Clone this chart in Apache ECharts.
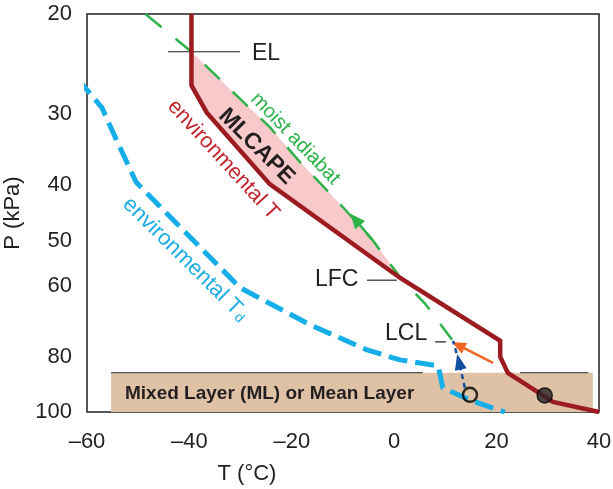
<!DOCTYPE html>
<html><head><meta charset="utf-8">
<script src="https://cdn.jsdelivr.net/npm/echarts@6/dist/echarts.min.js"></script>
<style>html,body{margin:0;padding:0;background:#fff}#c{width:613px;height:489px}</style>
</head><body><div id="c"></div>
<script>
// ---- data (T in °C, P in kPa) ----
const xTicks = [-60, -40, -20, 0, 20, 40];
const pTicks = [20, 30, 40, 50, 60, 80, 100];
const envT = [[-39.6,20],[-39.6,26.7],[-36.6,29.8],[-24.3,39.8],[1.1,58.1],[20.7,75.0],[20.7,80.0],[22.2,85.4],[29.5,94.1],[31.0,96.0],[40,100]];
const envTd = [[-61.8,26.0],[-57.1,29.2],[-54.9,32.3],[-50.4,39.5],[-30.1,60.5],[-16.4,70.3],[-5.3,77.8],[1.1,81.0],[8.6,83.0],[9.5,90.7],[14.8,95.3],[21.6,100]];
const moistAdiabat = [[-48.6,20],[-39.6,23.3],[-30.1,28.2],[-24.3,31.6],[-18.4,36.4],[-10,43.7],[-4.3,49.8],[1.1,57.9],[6.2,64.8],[11.3,74.7]];
const mlLayer = [[-55.3, 85.3, 38.8, 100]];
const mlTopBorders = [[[-55.3,85.3],[5.6,85.3]], [[24.6,85.3],[37.9,85.3]]];
const elLine = [[-44.2,23.3],[-30.1,23.3]];
const lfcLine = [[-5.3,58.7],[0.5,58.7]];
const lclLine = [[8.0,75.3],[10.1,75.3]];
const orangeArrow = [[19.3,82.0],[12.5,76.3]];
const liftArrow = [[13.8,90.7],[12.66,81.6]];
const liftToLCL = [[12.66,81.6],[11.5,75.0]];
const adiabatArrow = [[-4.3,49.8],[-7.6,45.9]];
const surfaceT = [[29.4,93.5]];
const surfaceTd = [[14.8,93.3]];

const FONT = '"Liberation Sans", Arial, Helvetica, sans-serif';
const DARK = '#231f20';
const lp = p => Math.log10(p);
const xy = arr => arr.map(d => [d[0], lp(d[1])]);
const capePoly = moistAdiabat.slice(1, 8).concat(envT.slice(1, 5).reverse());

const chart = echarts.init(document.getElementById('c'), null, {renderer: 'canvas'});
const RAD = Math.PI / 180;
function rotText(text, x, y, deg, color, size, weight, align) {
  return {type: 'text', x: x, y: y, rotation: -deg * RAD, silent: true, z: 100,
    style: {text: text, fill: color, fontSize: size, fontFamily: FONT,
      fontWeight: weight || 'normal', align: align || 'left', verticalAlign: 'middle'}};
}
function plainLine(data, color, width, extra) {
  return Object.assign({type: 'line', data: xy(data), symbol: 'none', silent: true,
    lineStyle: {color: color, width: width}, z: 6}, extra || {});
}
function arrowSeries(seg, color, width, dash, size, z) {
  const s = xy(seg);
  return {
    type: 'line', data: [], silent: true, z: z,
    markLine: {
      silent: true, symbol: ['none', 'triangle'], symbolSize: size, animation: false,
      label: {show: false}, lineStyle: {color: color, width: width, type: dash},
      emphasis: {disabled: true},
      data: [[{coord: s[0]}, {coord: s[1]}]]
    }
  };
}

const option = {
  animation: false,
  grid: {left: 87, right: 14, top: 14, bottom: 77, outerBoundsMode: 'none', containLabel: false,
    show: true, borderColor: DARK, borderWidth: 1.5, backgroundColor: 'transparent'},
  xAxis: {
    type: 'value', min: xTicks[0], max: xTicks[xTicks.length - 1], interval: 20,
    axisLine: {show: false}, axisTick: {show: false}, splitLine: {show: false},
    axisLabel: {fontSize: 22, color: DARK, fontFamily: FONT, margin: 19,
      formatter: v => v < 0 ? '\u2013' + (-v) : String(v)}
  },
  yAxis: {
    type: 'value', inverse: true, min: lp(pTicks[0]), max: lp(pTicks[pTicks.length - 1]),
    name: 'P (kPa)', nameLocation: 'middle', nameGap: 62, nameRotate: 90,
    nameTextStyle: {fontSize: 22, color: DARK, fontFamily: FONT},
    axisLine: {show: false}, axisTick: {show: false}, splitLine: {show: false},
    axisLabel: {customValues: pTicks.map(lp), fontSize: 22, color: DARK, fontFamily: FONT, margin: 15,
      formatter: v => String(Math.round(Math.pow(10, v)))}
  },
  series: [
    { // mixed layer box
      type: 'custom', silent: true, z: 1,
      data: mlLayer.map(d => [d[0], lp(d[1]), d[2], lp(d[3])]),
      encode: {x: [0, 2], y: [1, 3]},
      renderItem: function (params, api) {
        const a = api.coord([api.value(0), api.value(1)]);
        const b = api.coord([api.value(2), api.value(3)]);
        return {type: 'rect', shape: {x: a[0], y: a[1], width: b[0] - a[0], height: b[1] - a[1]},
          style: {fill: '#dfc1a5'}};
      }
    },
    { // CAPE area
      type: 'custom', silent: true, z: 2,
      data: xy(capePoly),
      renderItem: function (params, api) {
        if (params.dataIndex !== 0) return null;
        const pts = xy(capePoly).map(p => api.coord(p));
        return {type: 'polygon', shape: {points: pts}, style: {fill: '#f8c9ca'}};
      }
    },
    plainLine(mlTopBorders[0], '#555555', 1.2, {z: 3}),
    plainLine(mlTopBorders[1], '#555555', 1.2, {z: 3}),
    plainLine(envTd, '#16aee9', 5, {clip: false, z: 5, lineStyle: {color: '#16aee9', width: 5, type: [19, 8]}}),
    plainLine(moistAdiabat, '#2db34a', 2.5, {z: 6, lineStyle: {color: '#2db34a', width: 2.5, type: [21, 18]}}),
    plainLine(envT, '#9b1b20', 4.5, {z: 7, lineStyle: {color: '#9b1b20', width: 4.5, join: 'miter'}}),
    plainLine(elLine, DARK, 1.2),
    plainLine(lfcLine, '#555555', 1.6),
    plainLine(lclLine, DARK, 1.2),
    plainLine(liftToLCL, '#0f4fa0', 2.5, {z: 8, lineStyle: {color: '#0f4fa0', width: 2.5, type: [5, 4]}}),
    arrowSeries(liftArrow, '#0f4fa0', 2.5, [5, 4], [12, 16], 8),
    arrowSeries(orangeArrow, '#f26522', 2.5, 'solid', [12, 14], 8),
    arrowSeries(adiabatArrow, '#2db34a', 2.5, 'solid', [13, 15], 8),
    {type: 'scatter', data: xy(surfaceT), symbol: 'circle', symbolSize: 15,
      itemStyle: {color: '#2a2627', borderColor: '#000', borderWidth: 1.5}, silent: true, z: 10},
    {type: 'scatter', data: xy(surfaceTd), symbol: 'circle', symbolSize: 14,
      itemStyle: {color: 'rgba(255,255,255,0)', borderColor: '#000', borderWidth: 2.5}, silent: true, z: 10}
  ],
  graphic: [
    rotText('MLCAPE', 256.5, 146.5, 45, DARK, 23, 'bold', 'center'),
    rotText('moist adiabat', 254, 96, 46, '#2db34a', 20),
    rotText('environmental T', 171, 103, 47.5, '#c1272d', 21.5),
    rotText('environmental T', 126, 201, 44.5, '#1cade4', 22),
    rotText('d', 239, 318, 44.5, '#1cade4', 14, 'normal', 'center'),
    rotText('EL', 252, 54, 0, DARK, 23),
    rotText('LFC', 315, 280, 0, DARK, 23),
    rotText('LCL', 385, 334, 0, DARK, 23),
    rotText('Mixed Layer (ML) or Mean Layer', 125, 394, 0, DARK, 19, 'bold'),
    rotText('T (\u00b0C)', 247, 474, 0, DARK, 22, 'normal', 'center')
  ]
};
chart.setOption(option);
</script>
</body></html>
